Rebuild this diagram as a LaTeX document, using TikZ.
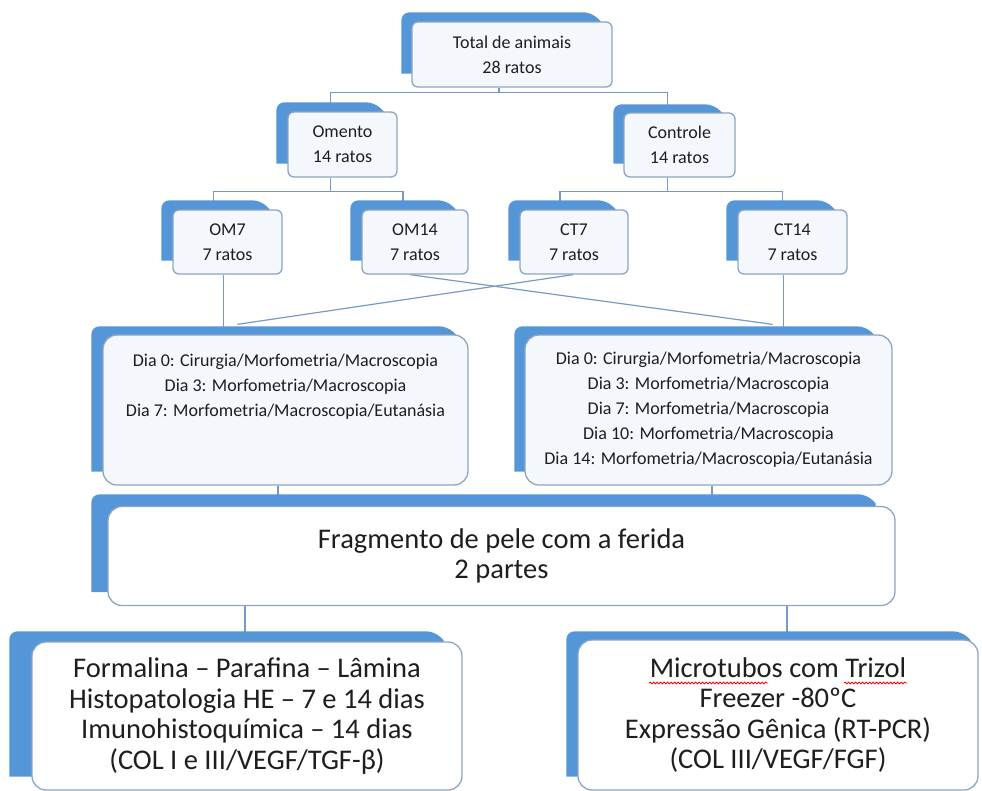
\documentclass[tikz,border=0pt]{standalone}
\usepackage{fontspec}
\setmainfont{Carlito}
\usepackage{xcolor}
\usetikzlibrary{calc,decorations.pathmorphing}

\definecolor{cardblue}{RGB}{84,150,215}
\definecolor{cardedge}{RGB}{141,165,194}
\definecolor{cardfill}{RGB}{244,247,251}
\definecolor{linkblue}{RGB}{118,154,196}
\definecolor{inkgray}{RGB}{30,30,30}

\pgfdeclarelayer{links}
\pgfdeclarelayer{backs}
\pgfsetlayers{links,backs,main}

% blue card behind a box: node, left, up, right inset
\newcommand{\cardback}[4]{%
  \begin{pgfonlayer}{backs}
    \fill[cardblue] ($(#1.south west)+(-#2,-14)$) [rounded corners=8pt]
      -- ($(#1.north west)+(-#2,-#3)$)
      -- ($(#1.north east)+(-#4-9,-#3)$) [sharp corners]
      -- ($(#1.north east)+(-#4,-#3+9)$)
      -- ($(#1.south east)+(-#4,-14)$) -- cycle;
  \end{pgfonlayer}}

\tikzset{
  card/.style={draw=cardedge, line width=1.3pt, fill=cardfill,
    rounded corners=6pt, align=center, text=inkgray, inner sep=0pt,
    font=\fontsize{18}{25}\selectfont},
  bigcard/.style={card, rounded corners=14pt},
  lowcard/.style={bigcard, fill=white, font=\fontsize{28.5}{30.5}\selectfont},
  link/.style={draw=linkblue, line width=1.2pt},
  spellmark/.style={draw=red, line width=0.8pt,
    decorate, decoration={snake, amplitude=0.9pt, segment length=3.5pt}}
}

\begin{document}
\begin{tikzpicture}[x=1pt,y=-1pt]
    \useasboundingbox (0,0) rectangle (982,790);

    % Groups
    \node[card, minimum width=200pt, minimum height=65pt] (total) at (512,54.5)
        {Total de animais\\28 ratos};
    \node[card, minimum width=109pt, minimum height=65pt] (omento) at (342.5,144.5)
        {Omento\\14 ratos};
    \node[card, minimum width=111pt, minimum height=64pt] (controle) at (679.5,145)
        {Controle\\14 ratos};

    \node[card, minimum width=109pt, minimum height=64pt] (om7) at (227.5,242)
        {OM7\\7 ratos};
    \node[card, minimum width=106pt, minimum height=64pt] (om14) at (415,242)
        {OM14\\7 ratos};
    \node[card, minimum width=108pt, minimum height=64pt] (ct7) at (574,242)
        {CT7\\7 ratos};
    \node[card, minimum width=109pt, minimum height=64pt] (ct14) at (792.5,242)
        {CT14\\7 ratos};

    % Days
    \node[bigcard, minimum width=365pt, minimum height=150pt] (diasom) at (285.5,410)
        {Dia 0: Cirurgia/Morfometria/Macroscopia\\Dia 3: Morfometria/Macroscopia\\
         Dia 7: Morfometria/Macroscopia/Eutanásia\\~\\~};
    \node[bigcard, minimum width=367pt, minimum height=150pt] (diasct) at (708.5,410)
        {Dia 0: Cirurgia/Morfometria/Macroscopia\\Dia 3: Morfometria/Macroscopia\\
         Dia 7: Morfometria/Macroscopia\\Dia 10: Morfometria/Macroscopia\\
         Dia 14: Morfometria/Macroscopia/Eutanásia};

    % Samples
    \node[lowcard, minimum width=787pt, minimum height=99pt] (frag) at (501.5,556)
        {Fragmento de pele com a ferida\\2 partes};
    \node[lowcard, minimum width=430pt, minimum height=148pt] (histo) at (247,716)
        {Formalina – Parafina – Lâmina\\Histopatologia HE – 7 e 14 dias\\
         Imunohistoquímica – 14 dias\\(COL I e III/VEGF/TGF-β)};
    \node[lowcard, minimum width=400pt, minimum height=150pt] (gene) at (778,715)
        {Microtubos com Trizol\\Freezer -80ºC\\
         Expressão Gênica (RT-PCR)\\(COL III/VEGF/FGF)};

    % Spelling marks
    \draw[spellmark] ($(gene.center)+(-129,-32)$) -- ($(gene.center)+(-10,-32)$);
    \draw[spellmark] ($(gene.center)+(66,-32)$) -- ($(gene.center)+(129,-32)$);

    % Blue backs
    \cardback{total}{10}{9}{12}
    \cardback{omento}{11}{9}{14}
    \cardback{controle}{10}{8}{13}
    \cardback{om7}{11}{9}{13}
    \cardback{om14}{11}{9}{13}
    \cardback{ct7}{11}{9}{13}
    \cardback{ct14}{11}{9}{13}
    \cardback{diasom}{11}{8}{12}
    \cardback{diasct}{10}{8}{18}
    \cardback{frag}{16}{11.5}{20}
    \cardback{histo}{22}{10}{19}
    \cardback{gene}{11}{8}{8}

    % Links
    \begin{pgfonlayer}{links}
    \draw[link] ($(total.south)+(-13,0)$) -- ++(0,5) -| ($(omento.north)+(-12,0)$);
    \draw[link] ($(total.south)+(-13,0)$) -- ++(0,5) -| ($(controle.north)+(-12,0)$);

    \draw[link] ($(omento.south)+(-12,0)$) -- ++(0,14) -| ($(om7.north)+(-14,0)$);
    \draw[link] ($(omento.south)+(-12,0)$) -- ++(0,14) -| ($(om14.north)+(-12,0)$);
    \draw[link] ($(controle.south)+(-12,0)$) -- ++(0,14) -| ($(ct7.north)+(-14,0)$);
    \draw[link] ($(controle.south)+(-12,0)$) -- ++(0,14) -| ($(ct14.north)+(-10,0)$);

    \coordinate (om7out) at ($(om7.south)+(-4,0)$);
    \coordinate (ct14out) at ($(ct14.south)+(-9,0)$);
    \draw[link] (om7out) -- (om7out |- diasom.north);
    \draw[link] ($(ct7.south)+(-1,0)$) -- ($(diasom.north)+(-48,-10)$);
    \draw[link] ($(om14.south)+(-5,0)$) -- ($(diasct.north)+(64,-10)$);
    \draw[link] (ct14out) -- (ct14out |- diasct.north);

    \coordinate (domout) at ($(diasom.south)+(-7.5,0)$);
    \coordinate (dctout) at ($(diasct.south)+(3.5,0)$);
    \draw[link] (domout) -- (domout |- frag.north);
    \draw[link] (dctout) -- (dctout |- frag.north);

    \coordinate (histoin) at ($(histo.north)+(-2,0)$);
    \coordinate (genein) at ($(gene.north)+(9,0)$);
    \draw[link] (histoin |- frag.south) -- (histoin);
    \draw[link] (genein |- frag.south) -- (genein);
    \end{pgfonlayer}
\end{tikzpicture}
\end{document}
